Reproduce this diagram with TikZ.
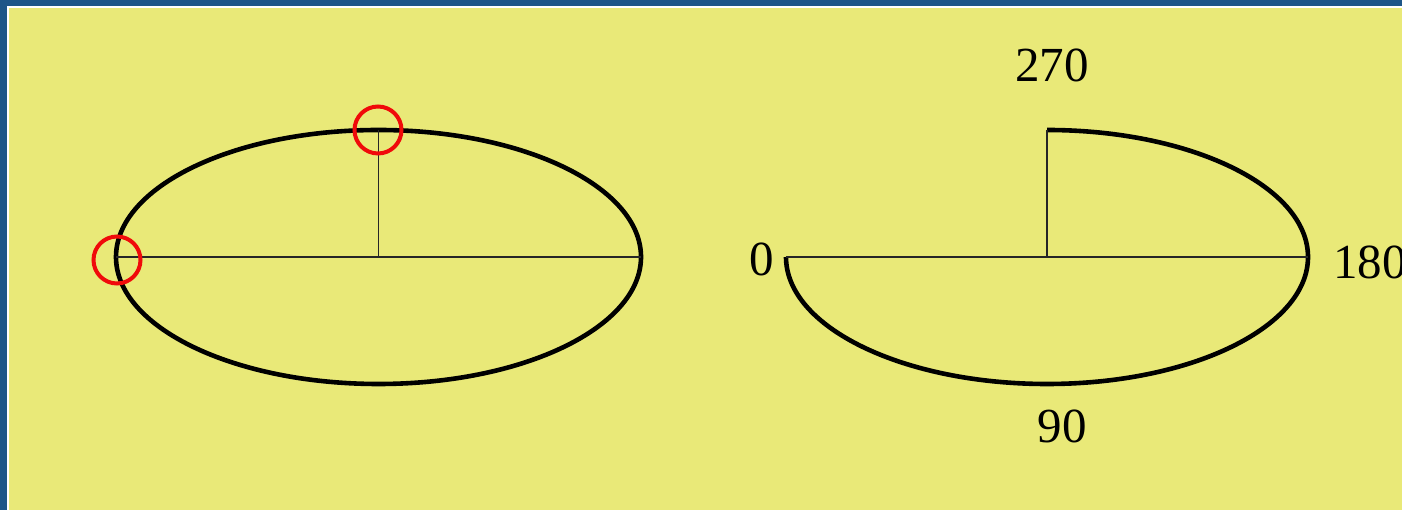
\documentclass[tikz,border=0pt]{standalone}
\usepackage{fontspec}
\setmainfont{Liberation Serif}
\definecolor{bgblue}{RGB}{30,86,136}
\definecolor{panel}{RGB}{233,233,120}
\definecolor{mark}{RGB}{240,10,10}
\begin{document}
\begin{tikzpicture}[x=1pt,y=1pt,
  curve/.style={line width=4.6pt,black},
  axis/.style={line width=1.6pt,black!85},
  ring/.style={draw=mark,line width=4pt},
  lbl/.style={inner sep=0pt,font=\fontsize{49}{58}\selectfont}]
\useasboundingbox (0,0) rectangle (1402,510);
\fill[bgblue] (0,0) rectangle (1402,510);
\fill[white] (7,0) rectangle (1402,504);
\fill[panel] (9,0) rectangle (1402,502);
% left ellipse
\coordinate (cL) at (378.5,253);
\coordinate (lL) at (116,253);
\coordinate (rL) at (641,253);
\coordinate (tL) at (378.5,380);
\draw[curve] (cL) ellipse[x radius=262.5, y radius=127];
\draw[axis] (lL) -- (rL);
\draw[axis] (cL) -- (tL);
\node[ring,circle,minimum size=47pt,inner sep=0pt] (mL) at (117,250) {};
\node[ring,circle,minimum size=47pt,inner sep=0pt] (mT) at (378,380) {};
% right ellipse
\coordinate (cR) at (1047,253);
\coordinate (lR) at (786,253);
\coordinate (rR) at (1308,253);
\coordinate (tR) at (1047,380);
\draw[curve] (lR) arc[start angle=180, end angle=450, x radius=261, y radius=127];
\draw[axis] (lR) -- (rR);
\draw[axis] (cR) -- (tR);
\node[lbl] (n0) at (762,251) {0};
\node[lbl,anchor=west] (n180) at (1333,248) {180};
\node[lbl] (n270) at (1052,445) {270};
\node[lbl] (n90) at (1062,84) {90};
\end{tikzpicture}
\end{document}
